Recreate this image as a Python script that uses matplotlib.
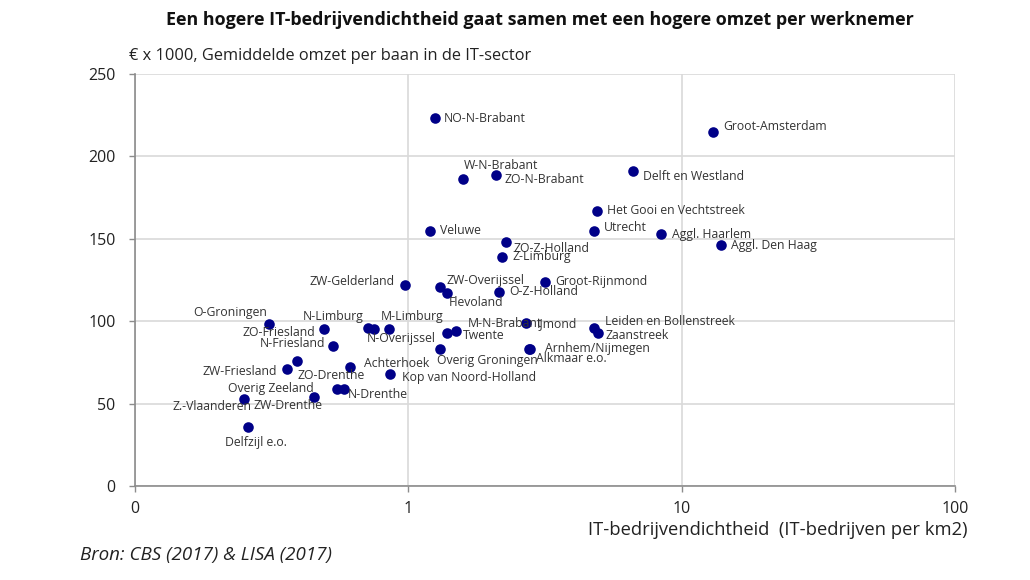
import matplotlib
matplotlib.use('Agg')
import matplotlib.pyplot as plt
from matplotlib.ticker import FixedLocator, FixedFormatter, NullLocator

# Data
regio = ['NO-N-Brabant', 'Groot-Amsterdam', 'W-N-Brabant', 'ZO-N-Brabant', 'Delft en Westland',
         'Het Gooi en Vechtstreek', 'Utrecht', 'Aggl. Haarlem', 'Aggl. Den Haag', 'Veluwe',
         'ZO-Z-Holland', 'Z-Limburg', 'Groot-Rijnmond', 'O-Z-Holland', 'ZW-Overijssel',
         'Flevoland', 'ZW-Gelderland', 'O-Groningen', 'ZO-Friesland', 'N-Limburg',
         'N-Overijssel', 'M-Limburg', 'N-Friesland', 'ZO-Drenthe', 'ZW-Friesland',
         'Achterhoek', 'Kop van Noord-Holland', 'Overig Zeeland', 'Z.-Vlaanderen', 'ZW-Drenthe',
         'N-Drenthe', 'Delfzijl e.o.', 'M-N-Brabant', 'Twente', 'Overig Groningen',
         'IJmond', 'Arnhem/Nijmegen', 'Alkmaar e.o.', 'Leiden en Bollenstreek', 'Zaanstreek']
dichtheid = [1.25, 13.0, 1.59, 2.09, 6.62,
             4.90, 4.78, 8.41, 13.97, 1.20,
             2.28, 2.21, 3.15, 2.15, 1.31,
             1.39, 0.97, 0.31, 0.49, 0.71,
             0.75, 0.85, 0.53, 0.39, 0.36,
             0.61, 0.86, 0.45, 0.25, 0.55,
             0.58, 0.26, 1.50, 1.39, 1.31,
             2.70, 2.79, 2.76, 4.79, 4.96]
omzet = [223, 215, 186, 189, 191,
         167, 155, 153, 146, 155,
         148, 139, 124, 118, 121,
         117, 122, 98, 95, 96,
         95, 95, 85, 76, 71,
         72, 68, 54, 53, 59,
         59, 36, 94, 93, 83,
         99, 83, 83, 96, 93]

x_ticks = [0.1, 1, 10, 100]
x_ticklabels = ['0', '1', '10', '100']
y_ticks = [0, 50, 100, 150, 200, 250]

# label placement: (dx, dy in pixels, ha)
label_pos = {
    'NO-N-Brabant': (9, 0, 'left'), 'Groot-Amsterdam': (10, 5, 'left'),
    'W-N-Brabant': (0, 14, 'left'), 'ZO-N-Brabant': (9, -5, 'left'),
    'Delft en Westland': (10, -5, 'left'), 'Het Gooi en Vechtstreek': (10, 0, 'left'),
    'Utrecht': (10, 3, 'left'), 'Aggl. Haarlem': (11, -1, 'left'),
    'Aggl. Den Haag': (10, 0, 'left'), 'Veluwe': (10, 0, 'left'),
    'ZO-Z-Holland': (7, -6, 'left'), 'Z-Limburg': (10, 0, 'left'),
    'Groot-Rijnmond': (11, 0, 'left'), 'O-Z-Holland': (10, 0, 'left'),
    'ZW-Overijssel': (6, 6, 'left'), 'Flevoland': (1, -9, 'left'),
    'ZW-Gelderland': (-10, 3, 'right'), 'O-Groningen': (-2, 12, 'right'),
    'ZO-Friesland': (-8, -3, 'right'), 'N-Limburg': (-4, 11, 'right'),
    'N-Overijssel': (-7, -9, 'left'), 'M-Limburg': (-8, 13, 'left'),
    'N-Friesland': (-8, 2, 'right'), 'ZO-Drenthe': (1, -15, 'left'),
    'ZW-Friesland': (-10, -3, 'right'), 'Achterhoek': (14, 4, 'left'),
    'Kop van Noord-Holland': (12, -4, 'left'), 'Overig Zeeland': (0, 9, 'right'),
    'Z.-Vlaanderen': (8, -8, 'right'), 'ZW-Drenthe': (-15, -17, 'right'),
    'N-Drenthe': (4, -6, 'left'), 'Delfzijl e.o.': (8, -16, 'center'),
    'M-N-Brabant': (11, 8, 'left'), 'Twente': (15, -3, 'left'),
    'Overig Groningen': (-3, -11, 'left'), 'IJmond': (11, -1, 'left'),
    'Arnhem/Nijmegen': (15, 1, 'left'), 'Alkmaar e.o.': (7, -9, 'left'),
    'Leiden en Bollenstreek': (11, 6, 'left'), 'Zaanstreek': (7, -3, 'left'),
}

plt.rcParams['font.family'] = ['Open Sans', 'DejaVu Sans']

fig = plt.figure(figsize=(10.3, 5.8), dpi=100)
ax = fig.add_axes([135 / 1030, 1 - 486 / 580, 820 / 1030, 412 / 580])

ax.scatter(dichtheid, omzet, s=58, color='#000088', zorder=3, linewidths=0)

for name, xv, yv in zip(regio, dichtheid, omzet):
    dx, dy, ha = label_pos[name]
    ax.annotate(name, (xv, yv), xytext=(dx, dy), textcoords='offset pixels',
                ha=ha, va='center', fontsize=8.8, color='#333333', zorder=4)

ax.set_xscale('log')
ax.set_xlim(0.1, 100)
ax.set_ylim(0, 250)
ax.xaxis.set_major_locator(FixedLocator(x_ticks))
ax.xaxis.set_major_formatter(FixedFormatter(x_ticklabels))
ax.xaxis.set_minor_locator(NullLocator())
ax.set_yticks(y_ticks)

ax.grid(True, color='#d9d9d9', linewidth=1.2, zorder=0)
ax.set_axisbelow(True)
for side in ['top', 'right']:
    ax.spines[side].set_visible(False)
for side in ['left', 'bottom']:
    ax.spines[side].set_color('#8c8c8c')
    ax.spines[side].set_linewidth(1.2)
ax.tick_params(axis='both', length=4, width=1, color='#8c8c8c', labelcolor='#222222',
               labelsize=11.5)
ax.tick_params(axis='x', pad=7)
ax.tick_params(axis='y', pad=10)

fig.text(540 / 1030, 1 - 20 / 580, 'Een hogere IT-bedrijvendichtheid gaat samen met een hogere omzet per werknemer',
         ha='center', va='center', fontsize=12.9, fontweight='bold', color='#111111')
fig.text(129 / 1030, 1 - 56 / 580, '€ x 1000, Gemiddelde omzet per baan in de IT-sector',
         ha='left', va='center', fontsize=11.8, color='#222222')
fig.text(968 / 1030, 1 - 530 / 580, 'IT-bedrijvendichtheid  (IT-bedrijven per km2)',
         ha='right', va='center', fontsize=13.2, color='#222222')
fig.text(80 / 1030, 1 - 555 / 580, 'Bron: CBS (2017) & LISA (2017)',
         ha='left', va='center', fontsize=13.5, style='italic', color='#222222')

fig.savefig('out.png', dpi=100)
